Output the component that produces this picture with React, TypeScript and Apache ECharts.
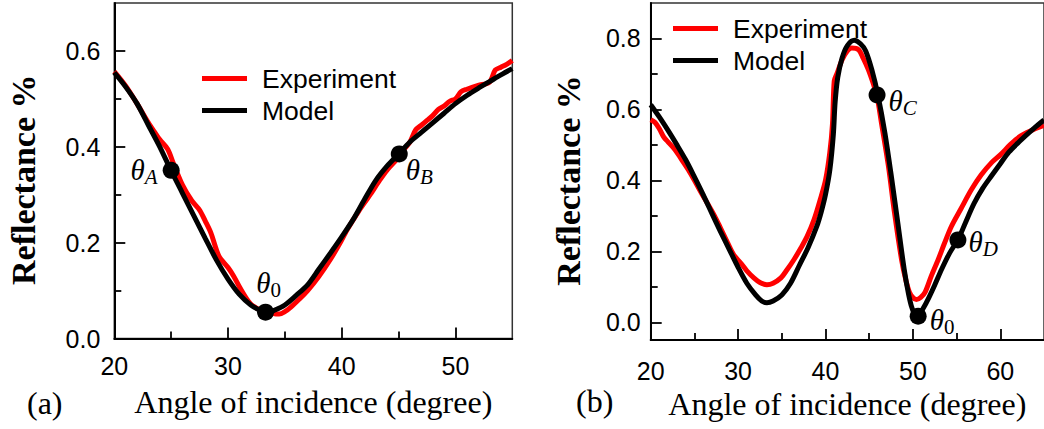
import React, { useEffect, useRef } from "react";
import * as echarts from "echarts";

// ---------- Panel (a) ----------
const aModelAngle = [20, 21, 22, 23, 24, 25, 26, 27, 28, 29, 30, 31, 32, 33, 33.5, 34, 35, 36, 37, 38, 39, 40, 41, 42, 43, 44, 45, 46, 47, 48, 49, 50, 51, 52, 53, 54, 55];
const aModelR = [0.555, 0.525, 0.49, 0.445, 0.4, 0.35, 0.303, 0.256, 0.209, 0.163, 0.124, 0.092, 0.07, 0.057, 0.054, 0.058, 0.07, 0.09, 0.112, 0.145, 0.178, 0.212, 0.248, 0.29, 0.33, 0.36, 0.385, 0.41, 0.43, 0.45, 0.47, 0.49, 0.507, 0.522, 0.536, 0.55, 0.563];
const aExpAngle = [20, 21, 22, 23, 23.5, 24, 24.7, 25.2, 26, 26.8, 27.5, 28, 28.5, 29.2, 30, 30.5, 31, 31.5, 32, 32.8, 33.5, 34, 34.5, 35, 35.5, 36.3, 37, 38, 39, 39.8, 40.5, 41.5, 42.5, 43.3, 44, 45, 45.5, 46, 46.5, 47, 47.5, 48, 48.5, 49, 49.5, 50, 50.5, 51, 52, 53, 53.5, 54, 54.5, 55];
const aExpR = [0.557, 0.527, 0.49, 0.45, 0.432, 0.415, 0.395, 0.365, 0.32, 0.288, 0.268, 0.245, 0.22, 0.172, 0.148, 0.13, 0.108, 0.088, 0.072, 0.06, 0.056, 0.052, 0.051, 0.056, 0.065, 0.083, 0.1, 0.13, 0.165, 0.197, 0.228, 0.266, 0.3, 0.329, 0.352, 0.378, 0.395, 0.41, 0.435, 0.445, 0.455, 0.465, 0.478, 0.485, 0.495, 0.5, 0.515, 0.52, 0.528, 0.535, 0.56, 0.566, 0.572, 0.58];
const aThetaAngle = [25.0, 33.3, 45.06];
const aThetaR = [0.351, 0.055, 0.385];
const aThetaSub = ["A", "0", "B"];
const aXTicks = [20, 30, 40, 50];
const aXMinor = [25, 35, 45];
const aYTicks = [0, 0.2, 0.4, 0.6];
const aYMinor = [0.1, 0.3, 0.5];

// ---------- Panel (b) ----------
const bModelAngle = [20, 21, 22, 23, 24, 25, 26, 27, 28, 29, 30, 31, 32, 32.7, 33.3, 34, 35, 36, 37, 38, 39, 39.5, 40, 40.5, 40.9, 41.1, 41.4, 41.9, 42.5, 43.3, 44, 44.6, 45.3, 46, 46.8, 47.6, 48.3, 49, 49.5, 49.9, 50.3, 50.7, 51.2, 51.8, 52.5, 53.3, 54.2, 55.2, 56, 57, 58, 59, 60, 61, 62, 63, 64, 65];
const bModelR = [0.613, 0.578, 0.54, 0.5, 0.458, 0.41, 0.36, 0.307, 0.255, 0.205, 0.155, 0.11, 0.077, 0.06, 0.055, 0.06, 0.077, 0.11, 0.16, 0.21, 0.27, 0.31, 0.36, 0.43, 0.53, 0.62, 0.69, 0.745, 0.78, 0.795, 0.785, 0.765, 0.712, 0.64, 0.533, 0.4, 0.275, 0.15, 0.08, 0.04, 0.02, 0.022, 0.04, 0.068, 0.105, 0.15, 0.195, 0.235, 0.28, 0.335, 0.378, 0.413, 0.447, 0.48, 0.505, 0.528, 0.55, 0.57];
const bExpAngle = [20, 20.5, 21, 21.5, 22, 22.8, 23.5, 24.3, 25, 25.8, 26.5, 27.3, 28, 28.8, 29.5, 30.3, 31, 31.8, 32.5, 33.3, 34, 34.9, 35.6, 36.4, 37.2, 37.9, 38.7, 39.4, 40, 40.5, 40.8, 41, 41.3, 41.9, 42.5, 43, 43.8, 44.3, 44.9, 45.5, 45.9, 46.4, 47.2, 47.9, 48.7, 49.2, 49.6, 50, 50.4, 50.9, 51.4, 52.1, 52.9, 53.6, 54.4, 55.5, 56.7, 57.8, 59, 60, 61.2, 62.3, 63.5, 65];
const bExpR = [0.571, 0.563, 0.545, 0.522, 0.508, 0.486, 0.46, 0.43, 0.4, 0.364, 0.335, 0.3, 0.265, 0.224, 0.19, 0.167, 0.145, 0.125, 0.112, 0.106, 0.11, 0.125, 0.148, 0.177, 0.21, 0.242, 0.29, 0.346, 0.4, 0.48, 0.56, 0.68, 0.7, 0.74, 0.765, 0.773, 0.768, 0.745, 0.712, 0.67, 0.637, 0.562, 0.44, 0.308, 0.177, 0.118, 0.085, 0.07, 0.064, 0.07, 0.085, 0.13, 0.177, 0.222, 0.27, 0.32, 0.374, 0.415, 0.45, 0.472, 0.502, 0.525, 0.54, 0.555];
const bThetaAngle = [45.9, 50.6, 55.15];
const bThetaR = [0.641, 0.017, 0.232];
const bThetaSub = ["C", "0", "D"];
const bXTicks = [20, 30, 40, 50, 60];
const bXMinor = [25, 35, 45, 55];
const bYTicks = [0, 0.2, 0.4, 0.6, 0.8];
const bYMinor = [0.1, 0.3, 0.5, 0.7];

const seriesNames = ["Experiment", "Model"];
const xTitle = "Angle of incidence (degree)";
const yTitle = "Reflectance %";

const zip = (xs: number[], ys: number[]) => xs.map((x, i) => [x, ys[i]]);

const SANS = "Liberation Sans";
const SERIF = "Liberation Serif";

export default function App() {
  const ref = useRef<HTMLDivElement>(null);
  useEffect(() => {
    if (!ref.current) return;
    const chart = echarts.init(ref.current, null, { renderer: "svg" });

    const grids = [
      { left: 114.3, top: 3, width: 398, height: 335.5 },
      { left: 650.7, top: 3, width: 396, height: 337 },
    ];

    const tickStyle = { color: "#000", width: 1.8 };

    const majorX = (gi: number, min: number, max: number, ticks: number[], margin: number) => ({
      type: "value",
      gridIndex: gi,
      min,
      max,
      position: "bottom",
      name: xTitle,
      nameLocation: "middle",
      nameGap: 47,
      nameTextStyle: { fontFamily: SERIF, fontSize: 32, color: "#000" },
      axisLine: { show: true, onZero: false, lineStyle: { color: "#000", width: 2 } },
      axisTick: { show: true, inside: true, length: 11, customValues: ticks, lineStyle: tickStyle },
      axisLabel: { show: true, customValues: ticks, margin, fontFamily: SANS, fontSize: 25, color: "#000", formatter: (v: number) => String(v) },
      splitLine: { show: false },
    });
    const minorX = (gi: number, min: number, max: number, ticks: number[]) => ({
      type: "value",
      gridIndex: gi,
      min,
      max,
      position: "bottom",
      axisLine: { show: false, onZero: false },
      axisTick: { show: true, inside: true, length: 7, customValues: ticks, lineStyle: tickStyle },
      axisLabel: { show: false },
      splitLine: { show: false },
    });
    const majorY = (gi: number, min: number, max: number, ticks: number[], margin: number, gap: number) => ({
      type: "value",
      gridIndex: gi,
      min,
      max,
      position: "left",
      name: yTitle,
      nameLocation: "middle",
      nameGap: gap,
      nameTextStyle: { fontFamily: SERIF, fontSize: 34, fontWeight: "bold", color: "#000", padding: [0, 18, 0, 0] },
      axisLine: { show: true, onZero: false, lineStyle: { color: "#000", width: 2 } },
      axisTick: { show: true, inside: true, length: 11, customValues: ticks, lineStyle: tickStyle },
      axisLabel: { show: true, customValues: ticks, margin, fontFamily: SANS, fontSize: 25, color: "#000", formatter: (v: number) => v.toFixed(1) },
      splitLine: { show: false },
    });
    const minorY = (gi: number, min: number, max: number, ticks: number[]) => ({
      type: "value",
      gridIndex: gi,
      min,
      max,
      position: "left",
      axisLine: { show: false, onZero: false },
      axisTick: { show: true, inside: true, length: 7, customValues: ticks, lineStyle: tickStyle },
      axisLabel: { show: false },
      splitLine: { show: false },
    });

    const lineSeries = (name: string, data: number[][], color: string, axis: number) => ({
      type: "line",
      name,
      data,
      xAxisIndex: axis,
      yAxisIndex: axis,
      showSymbol: false,
      symbol: "none",
      smooth: 0.3,
      lineStyle: { color, width: 5 },
      itemStyle: { color },
      z: name === "Model" ? 3 : 2,
    });

    const thetaRich = {
      t: { fontFamily: SERIF, fontStyle: "italic", fontSize: 29, color: "#000" },
      s: { fontFamily: SERIF, fontStyle: "italic", fontSize: 21, color: "#000", padding: [14, 0, 0, 0] },
      n: { fontFamily: SERIF, fontSize: 21, color: "#000", padding: [14, 0, 0, 0] },
    };
    const thetaLabel = (sub: string) => `{t|θ}{${sub === "0" ? "n" : "s"}|${sub}}`;

    const thetaSeries = (angles: number[], vals: number[], subs: string[], axis: number, labels: any[]) => ({
      type: "scatter",
      name: "theta",
      xAxisIndex: axis,
      yAxisIndex: axis,
      symbolSize: 17,
      itemStyle: { color: "#000", opacity: 1 },
      z: 5,
      data: angles.map((a, i) => ({
        value: [a, vals[i]],
        label: { show: true, color: "#000", opacity: 1, formatter: thetaLabel(subs[i]), rich: thetaRich, ...labels[i] },
      })),
    });

    const legendBase = {
      data: seriesNames,
      orient: "vertical",
      icon: "rect",
      itemWidth: 45,
      itemHeight: 5,
      itemGap: 5,
      selectedMode: false,
      textStyle: { fontFamily: SANS, fontSize: 26.5, color: "#000", lineHeight: 26, padding: [0, 0, 0, 10] },
    };

    chart.setOption({
      animation: false,
      backgroundColor: "#fff",
      grid: grids.map((g) => ({ ...g, show: true, borderColor: "#333", borderWidth: 1.5, backgroundColor: "transparent" })),
      legend: [
        { ...legendBase, left: 197, top: 60 },
        { ...legendBase, left: 668, top: 10 },
      ],
      xAxis: [
        majorX(0, 20, 55, aXTicks, 15),
        majorX(1, 20, 65, bXTicks, 18),
        minorX(0, 20, 55, aXMinor),
        minorX(1, 20, 65, bXMinor),
      ],
      yAxis: [
        majorY(0, 0, 0.7, aYTicks, 14, 74),
        majorY(1, -0.05, 0.9, bYTicks, 10, 65),
        minorY(0, 0, 0.7, aYMinor),
        minorY(1, -0.05, 0.9, bYMinor),
      ],
      series: [
        lineSeries(seriesNames[0], zip(aExpAngle, aExpR), "#ff0000", 0),
        lineSeries(seriesNames[1], zip(aModelAngle, aModelR), "#000000", 0),
        lineSeries(seriesNames[0], zip(bExpAngle, bExpR), "#ff0000", 1),
        lineSeries(seriesNames[1], zip(bModelAngle, bModelR), "#000000", 1),
        thetaSeries(aThetaAngle, aThetaR, aThetaSub, 0, [
          { position: "left", distance: 5 },
          { position: "top", distance: 3, offset: [3, 0] },
          { position: "right", distance: 0, offset: [-2, 16] },
        ]),
        thetaSeries(bThetaAngle, bThetaR, bThetaSub, 1, [
          { position: "right", distance: 3, offset: [0, 6] },
          { position: "right", distance: 3, offset: [0, 4] },
          { position: "right", distance: 2, offset: [0, 2] },
        ]),
      ],
      graphic: [
        { type: "text", left: 27, top: 387, style: { text: "(a)", fontFamily: SERIF, fontSize: 32, fill: "#000" } },
        { type: "text", left: 576, top: 385, style: { text: "(b)", fontFamily: SERIF, fontSize: 32, fill: "#000" } },
      ],
    });
    return () => chart.dispose();
  }, []);
  return <div ref={ref} style={{ position: "absolute", left: 0, top: 0, width: 1044, height: 429 }} />;
}
